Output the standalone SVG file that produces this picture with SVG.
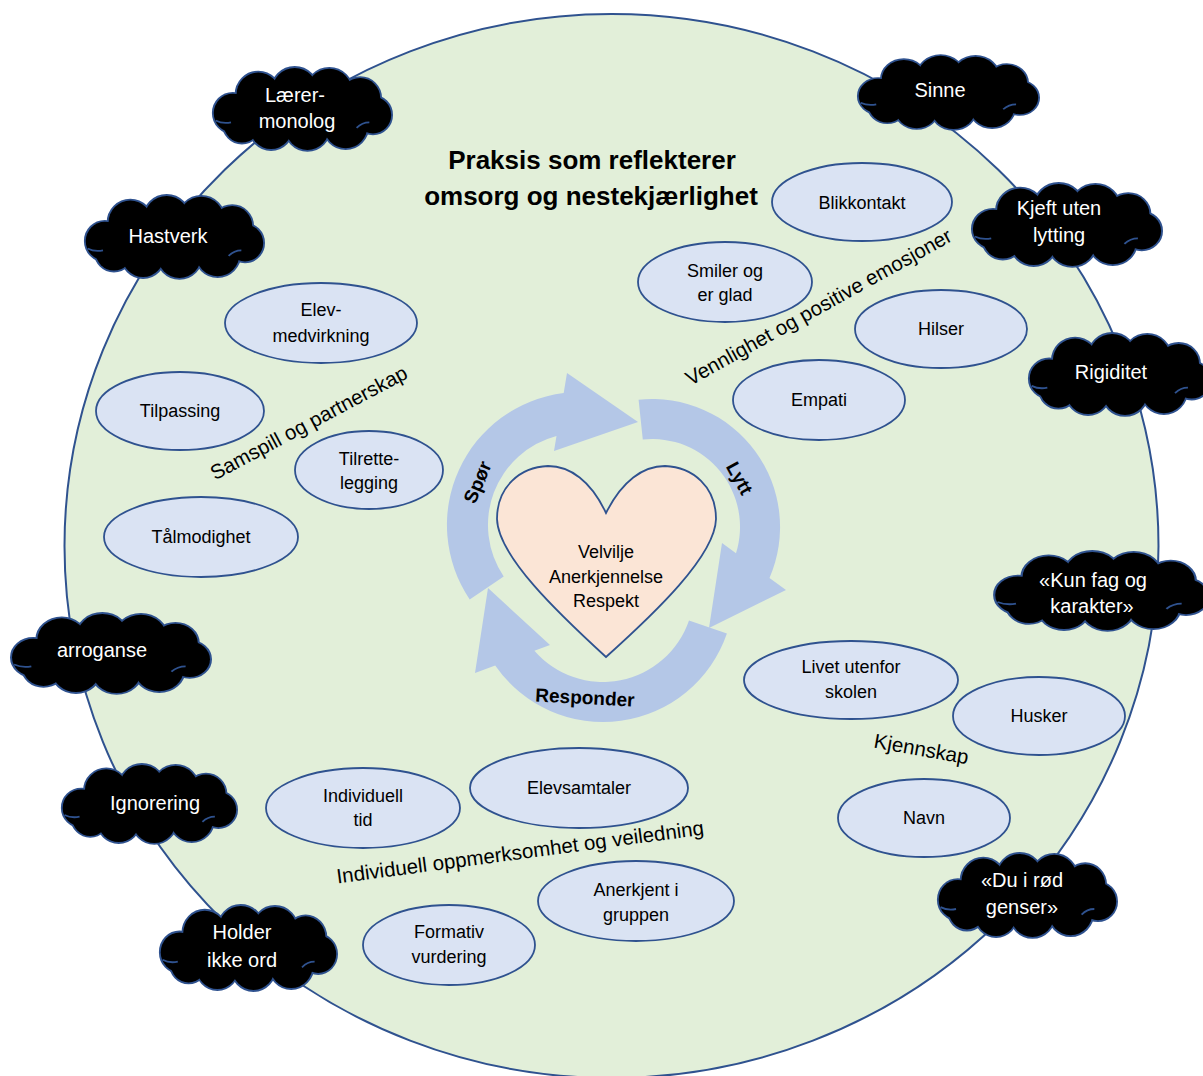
<svg xmlns="http://www.w3.org/2000/svg" xmlns:xlink="http://www.w3.org/1999/xlink" width="1203" height="1076" viewBox="0 0 1203 1076">
<style>
text{font-family:"Liberation Sans",Arial,sans-serif;text-anchor:middle;fill:#000}
.cl text{fill:#fff;font-size:20px}
.el ellipse{fill:#DAE3F3;stroke:#2F528F;stroke-width:1.8}
.el text{font-size:18px}
.lbl{font-size:20.5px}
.arr{fill:#B4C7E7}
.arrtxt{font-size:19px;font-weight:bold}
.title{font-size:26px;font-weight:bold}
</style>
<defs>
<g id="cloudShapes">
<circle cx="24" cy="50" r="21"/>
<circle cx="52" cy="30" r="24"/>
<circle cx="92" cy="26" r="25"/>
<circle cx="130" cy="27" r="25"/>
<circle cx="164" cy="34" r="22"/>
<circle cx="178" cy="52" r="20"/>
<circle cx="148" cy="64" r="24"/>
<circle cx="106" cy="66" r="24"/>
<circle cx="66" cy="66" r="23"/>
<circle cx="34" cy="62" r="20"/>
<ellipse cx="100" cy="46" rx="80" ry="30"/>
</g>
<symbol id="cloud" viewBox="0 0 200 90" preserveAspectRatio="none" overflow="visible">
<use xlink:href="#cloudShapes" fill="#000" stroke="#2F528F" stroke-width="4"/>
<use xlink:href="#cloudShapes" fill="#000" stroke="none"/>
<path d="M5,58 Q13,62 22,60 M160,66 Q166,60 174,60" fill="none" stroke="#2F528F" stroke-width="2"/>
</symbol>
</defs>

<g id="background">
<ellipse cx="611.5" cy="546" rx="547" ry="532" fill="#E2EFD9" stroke="#2F528F" stroke-width="2"/>
</g>

<g id="title">
<text class="title" x="592" y="169">Praksis som reflekterer</text>
<text class="title" x="591" y="205">omsorg og nestekjærlighet</text>
</g>

<g class="cl">
<g id="cloud-laerermonolog"><use xlink:href="#cloud" x="211" y="67" width="182" height="83"/><text x="295" y="102">Lærer-</text><text x="297" y="128">monolog</text></g>
<g id="cloud-sinne"><use xlink:href="#cloud" x="856" y="55" width="184" height="74"/><text x="940" y="97">Sinne</text></g>
<g id="cloud-hastverk"><use xlink:href="#cloud" x="83" y="195" width="182" height="83"/><text x="168" y="243">Hastverk</text></g>
<g id="cloud-kjeft"><use xlink:href="#cloud" x="970" y="183" width="193" height="83"/><text x="1059" y="215">Kjeft uten</text><text x="1059" y="242">lytting</text></g>
<g id="cloud-rigiditet"><use xlink:href="#cloud" x="1027" y="333" width="185" height="82"/><text x="1111" y="379">Rigiditet</text></g>
<g id="cloud-kunfag"><use xlink:href="#cloud" x="992" y="551" width="218" height="79"/><text x="1093" y="587">«Kun fag og</text><text x="1092" y="613">karakter»</text></g>
<g id="cloud-arroganse"><use xlink:href="#cloud" x="9" y="613" width="203" height="80"/><text x="102" y="657">arroganse</text></g>
<g id="cloud-ignorering"><use xlink:href="#cloud" x="60" y="764" width="178" height="79"/><text x="155" y="810">Ignorering</text></g>
<g id="cloud-durod"><use xlink:href="#cloud" x="936" y="853" width="182" height="84"/><text x="1022" y="887">«Du i rød</text><text x="1022" y="914">genser»</text></g>
<g id="cloud-holder"><use xlink:href="#cloud" x="158" y="905" width="180" height="85"/><text x="242" y="939">Holder</text><text x="242" y="967">ikke ord</text></g>
</g>

<g id="connectors">
<path class="arr" d="M469.7,599.4 A133 133 0 0 1 563.7,393 L567,373 L638,422 L554,451 L556.5,436 A92 92 0 0 0 503.7,576.4 Z"/>
<path class="arr" d="M638.6,399.7 A128 128 0 0 1 769.5,577.9 L786,590 L709,628 L722,543 L736,553.3 A88 88 0 0 0 642.8,439.5 Z"/>
<path class="arr" d="M726.9,633.6 A131 131 0 0 1 495.2,665.5 L475,673 L488,588 L550,645 L534.4,650.8 A91 91 0 0 0 689,620.6 Z"/>
<text class="arrtxt" transform="translate(477,482) rotate(-67)" y="7">Spør</text>
<text class="arrtxt" transform="translate(740,478) rotate(61)" y="7">Lytt</text>
<text class="arrtxt" transform="translate(585,697) rotate(3)" y="7">Responder</text>
</g>

<g id="heart">
<path d="M606,513 C591,481 570,466 548,466 C520,467 497,487 497,519 C498,556 558,613 606,657 C655,613 715,556 716,519 C716,487 693,467 665,466 C643,466 622,481 606,513 Z" fill="#FBE5D6" stroke="#2F528F" stroke-width="1.8"/>
<text x="606" y="558" font-size="18">Velvilje</text>
<text x="606" y="583" font-size="18">Anerkjennelse</text>
<text x="606" y="607" font-size="18">Respekt</text>
</g>

<g class="el">
<g id="n-blikkontakt"><ellipse cx="862" cy="202" rx="90" ry="39"/><text x="862" y="209">Blikkontakt</text></g>
<g id="n-smiler"><ellipse cx="725" cy="282" rx="87" ry="40"/><text x="725" y="277">Smiler og</text><text x="725" y="301">er glad</text></g>
<g id="n-hilser"><ellipse cx="941" cy="329" rx="86" ry="39"/><text x="941" y="335">Hilser</text></g>
<g id="n-empati"><ellipse cx="819" cy="400" rx="86" ry="40"/><text x="819" y="406">Empati</text></g>
<g id="n-elevmedvirkning"><ellipse cx="321" cy="323" rx="96" ry="40"/><text x="321" y="316">Elev-</text><text x="321" y="342">medvirkning</text></g>
<g id="n-tilpassing"><ellipse cx="180" cy="411" rx="84" ry="39"/><text x="180" y="417">Tilpassing</text></g>
<g id="n-tilrettelegging"><ellipse cx="369" cy="470" rx="74" ry="39"/><text x="369" y="465">Tilrette-</text><text x="369" y="489">legging</text></g>
<g id="n-talmodighet"><ellipse cx="201" cy="537" rx="97" ry="40"/><text x="201" y="543">Tålmodighet</text></g>
<g id="n-livet"><ellipse cx="851" cy="680" rx="107" ry="39"/><text x="851" y="673">Livet utenfor</text><text x="851" y="698">skolen</text></g>
<g id="n-husker"><ellipse cx="1039" cy="716" rx="86" ry="39"/><text x="1039" y="722">Husker</text></g>
<g id="n-navn"><ellipse cx="924" cy="818" rx="86" ry="39"/><text x="924" y="824">Navn</text></g>
<g id="n-elevsamtaler"><ellipse cx="579" cy="788" rx="109" ry="40"/><text x="579" y="794">Elevsamtaler</text></g>
<g id="n-individuelltid"><ellipse cx="363" cy="808" rx="97" ry="40"/><text x="363" y="802">Individuell</text><text x="363" y="826">tid</text></g>
<g id="n-anerkjent"><ellipse cx="636" cy="901" rx="98" ry="40"/><text x="636" y="896">Anerkjent i</text><text x="636" y="921">gruppen</text></g>
<g id="n-formativ"><ellipse cx="449" cy="945" rx="86" ry="40"/><text x="449" y="938">Formativ</text><text x="449" y="963">vurdering</text></g>
</g>

<g id="labels">
<text class="lbl" transform="translate(312,429) rotate(-28)">Samspill og partnerskap</text>
<text class="lbl" transform="translate(822,313) rotate(-29)">Vennlighet og positive emosjoner</text>
<text class="lbl" font-size="21" transform="translate(521,859) rotate(-7.6)">Individuell oppmerksomhet og veiledning</text>
<text class="lbl" transform="translate(921,751) rotate(10)" y="5">Kjennskap</text>
</g>
</svg>
